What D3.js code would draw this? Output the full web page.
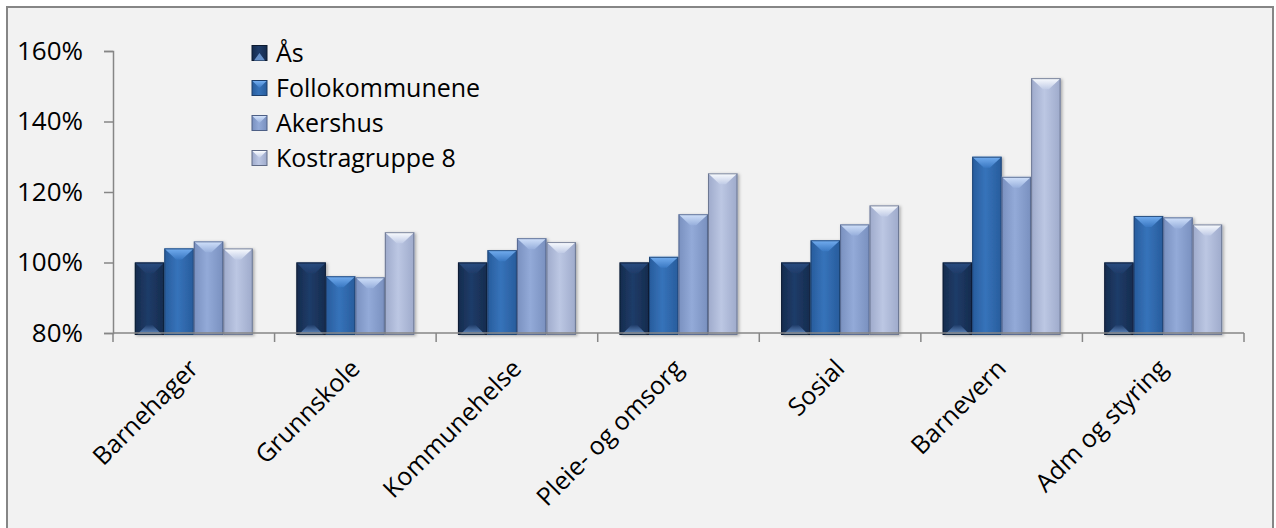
<!DOCTYPE html>
<html>
<head>
<meta charset="utf-8">
<script src="https://cdn.jsdelivr.net/npm/d3@7"></script>
<style>
  body { margin: 0; background: #ffffff; }
  text { font-family: "Open Sans", sans-serif; fill: #000; }
</style>
</head>
<body>
<svg width="1276" height="528"></svg>
<script>
// data
var categories = ["Barnehager", "Grunnskole", "Kommunehelse", "Pleie- og omsorg", "Sosial", "Barnevern", "Adm og styring"];
var seriesNames = ["Ås", "Follokommunene", "Akershus", "Kostragruppe 8"];
var as = [100, 100, 100, 100, 100, 100, 100];
var follo = [104.0, 96.1, 103.5, 101.6, 106.3, 130.0, 113.2];
var akershus = [106.0, 95.8, 106.9, 113.7, 110.8, 124.3, 112.8];
var kostra = [104.0, 108.6, 105.8, 125.3, 116.2, 152.3, 110.8];
var yTicks = [80, 100, 120, 140, 160];

var values = [as, follo, akershus, kostra];

// bar looks, one per series
var looks = [
  { edge: "#152b4d", mid: "#1f3c69", top: "#2c5188", topEnd: "#1f3c69", bot: "#6791c9", stroke: "#0d1a30" },
  { edge: "#285c9c", mid: "#3673ba", top: "#74aef0", topEnd: "#3a78c2", bot: "#3a74b8", stroke: "#1d3f6b" },
  { edge: "#7990bf", mid: "#93aad8", top: "#d2e2fb", topEnd: "#97afdc", bot: "#93aad8", stroke: "#4d5f85" },
  { edge: "#9eaacb", mid: "#bcc7e3", top: "#fbfdff", topEnd: "#c0cbe6", bot: "#bcc7e3", stroke: "#5f6a85" }
];

var svg = d3.select("svg");

// frame
svg.append("rect")
  .attr("x", 7).attr("y", 7)
  .attr("width", 1266).attr("height", 540)
  .attr("fill", "#f2f2f2")
  .attr("stroke", "#868686")
  .attr("stroke-width", 2);

var defs = svg.append("defs");

var shadow = defs.append("filter").attr("id", "shadow")
  .attr("x", "-20%").attr("y", "-20%").attr("width", "140%").attr("height", "140%");
shadow.append("feDropShadow")
  .attr("dx", 1.5).attr("dy", 1).attr("stdDeviation", 1.5)
  .attr("flood-color", "#000").attr("flood-opacity", 0.3);

looks.forEach(function(l, i) {
  var g = defs.append("linearGradient").attr("id", "body" + i)
    .attr("x1", 0).attr("x2", 1).attr("y1", 0).attr("y2", 0);
  g.append("stop").attr("offset", "0%").attr("stop-color", l.edge);
  g.append("stop").attr("offset", "45%").attr("stop-color", l.mid);
  g.append("stop").attr("offset", "100%").attr("stop-color", l.edge);

  var t = defs.append("linearGradient").attr("id", "top" + i)
    .attr("x1", 0).attr("x2", 0).attr("y1", 0).attr("y2", 1);
  t.append("stop").attr("offset", "0%").attr("stop-color", l.top);
  t.append("stop").attr("offset", "100%").attr("stop-color", l.topEnd);

  var b = defs.append("linearGradient").attr("id", "bot" + i)
    .attr("x1", 0).attr("x2", 0).attr("y1", 1).attr("y2", 0);
  b.append("stop").attr("offset", "0%").attr("stop-color", l.bot);
  b.append("stop").attr("offset", "100%").attr("stop-color", l.mid);
});

// scales
var y = d3.scaleLinear().domain([80, 160]).range([333, 51]);
var x0 = d3.scaleBand().domain(categories).range([113, 1244])
  .paddingInner(0.27).paddingOuter(0.135);
var x1 = d3.scaleBand().domain(seriesNames).range([0, x0.bandwidth()]);

// bars
function drawBar(g, x, yTop, w, h, i) {
  var l = looks[i];
  var d = Math.min(11, h / 2);
  var bar = g.append("g").attr("filter", "url(#shadow)");
  bar.append("rect")
    .attr("x", x).attr("y", yTop).attr("width", w).attr("height", h)
    .attr("fill", "url(#body" + i + ")");
  if (i === 0) {
    // subtle top bevel band
    bar.append("polygon")
      .attr("points", [[x, yTop], [x + w, yTop], [x + w - d, yTop + d], [x + d, yTop + d]].join(" "))
      .attr("fill", "url(#top0)").attr("opacity", 0.8);
    bar.append("polygon")
      .attr("points", [[x + 2, yTop + h], [x + w - 2, yTop + h], [x + w / 2 + 3, yTop + h - d + 1], [x + w / 2 - 3, yTop + h - d + 1]].join(" "))
      .attr("fill", "url(#bot0)");
  } else {
    bar.append("polygon")
      .attr("points", [[x, yTop], [x + w, yTop], [x + w / 2 + 3, yTop + d], [x + w / 2 - 3, yTop + d]].join(" "))
      .attr("fill", "url(#top" + i + ")");
  }
  bar.append("rect")
    .attr("x", x + 0.5).attr("y", yTop + 0.5).attr("width", w - 1).attr("height", h - 1)
    .attr("fill", "none").attr("stroke", l.stroke).attr("stroke-opacity", 0.8);
}

var barLayer = svg.append("g");
categories.forEach(function(c, ci) {
  values.forEach(function(vals, si) {
    var v = vals[ci];
    var top = y(v);
    drawBar(barLayer, x0(c) + x1(seriesNames[si]), top, x1.bandwidth(), y(80) + 2 - top, si);
  });
});

// axes
var yAxis = d3.axisLeft(y).tickValues(yTicks).tickSize(9).tickPadding(21)
  .tickFormat(function(d) { return d + "%"; });
var gy = svg.append("g").attr("transform", "translate(113,0)").call(yAxis);
gy.select(".domain").attr("stroke", "#868686").attr("stroke-width", 1.5);
gy.selectAll(".tick line").attr("stroke", "#868686").attr("stroke-width", 1.5);
gy.selectAll(".tick text").attr("font-size", 26).attr("font-family", "Open Sans").attr("fill", "#000");

var bounds = categories.map(function(c) { return x0(c) - x0.step() * x0.paddingInner() / 2; });
bounds.push(1244);
var gx = svg.append("g");
gx.append("line")
  .attr("x1", 113).attr("x2", 1244).attr("y1", y(80)).attr("y2", y(80))
  .attr("stroke", "#868686").attr("stroke-width", 1.5);
gx.selectAll(".xt").data(bounds).join("line")
  .attr("x1", function(d) { return d; }).attr("x2", function(d) { return d; })
  .attr("y1", y(80)).attr("y2", y(80) + 9)
  .attr("stroke", "#868686").attr("stroke-width", 1.5);
gx.selectAll(".xl").data(categories).join("text")
  .attr("text-anchor", "end")
  .attr("font-size", 25)
  .attr("transform", function(d) {
    return "translate(" + (x0(d) + x0.bandwidth() / 2 + 6) + "," + (y(80) + 37) + ") rotate(-45)";
  })
  .text(function(d) { return d; });

// legend
var legend = svg.append("g").attr("transform", "translate(252,53)");
seriesNames.forEach(function(name, i) {
  var row = legend.append("g").attr("transform", "translate(0," + (i * 35) + ")");
  var s = 15;
  row.append("rect").attr("x", 0).attr("y", -s / 2).attr("width", s).attr("height", s)
    .attr("fill", "url(#body" + i + ")").attr("stroke", looks[i].stroke).attr("stroke-width", 1);
  if (i === 0) {
    row.append("polygon").attr("points", [[2, s / 2], [s - 2, s / 2], [s / 2, 0]].join(" "))
      .attr("fill", looks[0].bot);
  } else {
    row.append("polygon").attr("points", [[0.5, -s / 2 + 0.5], [s - 0.5, -s / 2 + 0.5], [s / 2, 0]].join(" "))
      .attr("fill", "url(#top" + i + ")");
  }
  row.append("text").attr("x", 24).attr("y", 0).attr("dy", "0.35em")
    .attr("font-size", 25).text(name);
});
</script>
</body>
</html>
